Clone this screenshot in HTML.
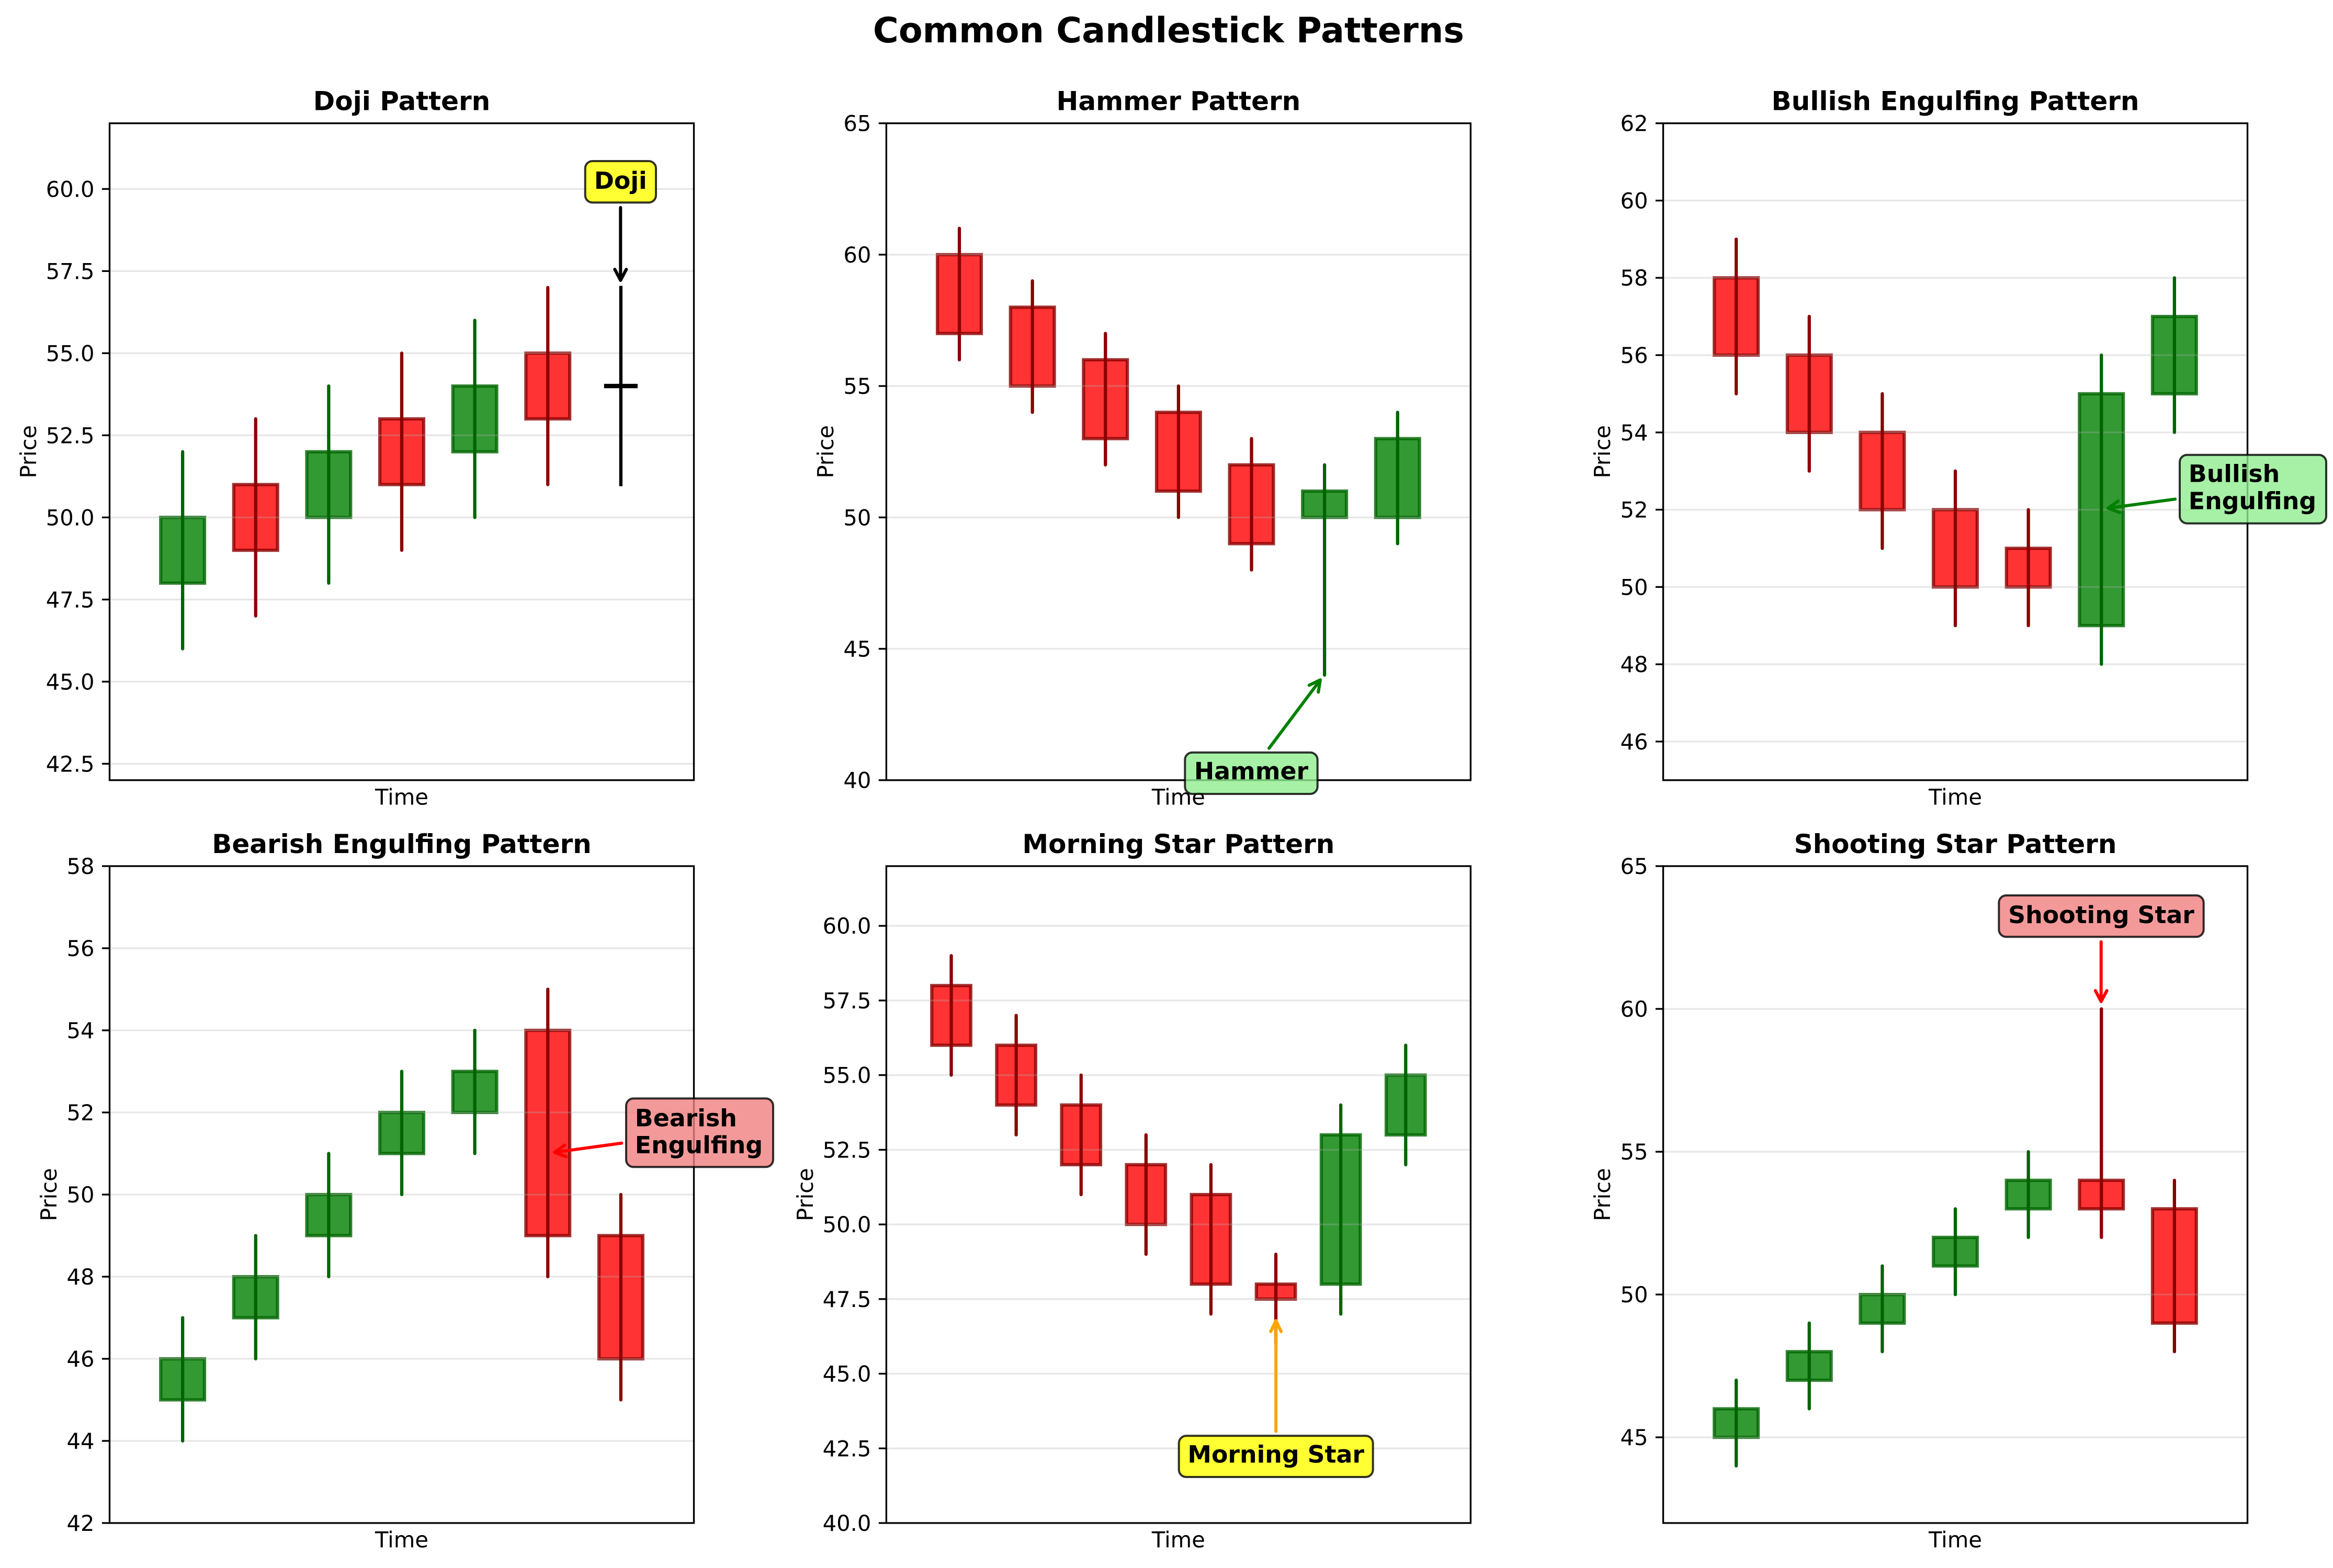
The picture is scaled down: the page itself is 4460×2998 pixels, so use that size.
<!DOCTYPE html>
<html>
<head>
<meta charset="utf-8">
<style>
html,body{margin:0;padding:0;background:#fff;}
svg{display:block;}
text{font-family:"DejaVu Sans","Liberation Sans",sans-serif;fill:#000;}
.d rect,.d line{vector-effect:non-scaling-stroke;}
.g{fill:#008000;fill-opacity:.8;stroke:#006400;stroke-opacity:.8;stroke-width:6.25;}
.r{fill:#ff0000;fill-opacity:.8;stroke:#8b0000;stroke-opacity:.8;stroke-width:6.25;}
.wg{stroke:#006400;stroke-width:6.25;stroke-linecap:round;}
.wr{stroke:#8b0000;stroke-width:6.25;stroke-linecap:round;}
.gl{stroke:#b0b0b0;stroke-opacity:.3;stroke-width:3.33;}
.sp{fill:none;stroke:#000;stroke-width:3.33;}
.tk{stroke:#000;stroke-width:3.33;}
.tl{font-size:41.67px;text-anchor:end;}
.ttl{font-size:50px;font-weight:bold;text-anchor:middle;}
.xl{font-size:41.67px;text-anchor:middle;}
.an{font-size:45.8px;font-weight:bold;}
.box{stroke:#000;stroke-opacity:.8;stroke-width:4;}
.arr{fill:none;stroke-width:6;stroke-linecap:round;stroke-linejoin:round;}
</style>
</head>
<body>
<svg width="4460" height="2998" viewBox="0 0 4460 2998" xmlns="http://www.w3.org/2000/svg">
<rect x="0" y="0" width="4460" height="2998" fill="#fff"/>

<text x="2234" y="81" style="font-size:66.7px;font-weight:bold;text-anchor:middle;">Common Candlestick Patterns</text>

<!-- ================= PANEL 1: DOJI ================= -->
<g class="d" transform="translate(349.125,4129.3) scale(139.625,-62.8)">
<rect class="g" x="-0.3" y="48" width="0.6" height="2"/>
<rect class="r" x="0.7" y="49" width="0.6" height="2"/>
<rect class="g" x="1.7" y="50" width="0.6" height="2"/>
<rect class="r" x="2.7" y="51" width="0.6" height="2"/>
<rect class="g" x="3.7" y="52" width="0.6" height="2"/>
<rect class="r" x="4.7" y="53" width="0.6" height="2"/>
<line class="gl" x1="-1" x2="7" y1="42.5" y2="42.5"/>
<line class="gl" x1="-1" x2="7" y1="45" y2="45"/>
<line class="gl" x1="-1" x2="7" y1="47.5" y2="47.5"/>
<line class="gl" x1="-1" x2="7" y1="50" y2="50"/>
<line class="gl" x1="-1" x2="7" y1="52.5" y2="52.5"/>
<line class="gl" x1="-1" x2="7" y1="55" y2="55"/>
<line class="gl" x1="-1" x2="7" y1="57.5" y2="57.5"/>
<line class="gl" x1="-1" x2="7" y1="60" y2="60"/>
<line class="wg" x1="0" x2="0" y1="46" y2="52"/>
<line class="wr" x1="1" x2="1" y1="47" y2="53"/>
<line class="wg" x1="2" x2="2" y1="48" y2="54"/>
<line class="wr" x1="3" x2="3" y1="49" y2="55"/>
<line class="wg" x1="4" x2="4" y1="50" y2="56"/>
<line class="wr" x1="5" x2="5" y1="51" y2="57"/>
<line x1="6" x2="6" y1="51" y2="57" stroke="#000" stroke-width="6.25" stroke-linecap="square"/>
<line x1="5.8" x2="6.2" y1="54" y2="54" stroke="#000" stroke-width="8.33" stroke-linecap="square"/>
</g>
<rect class="sp" x="209.5" y="235.7" width="1117" height="1256"/>
<g class="tk">
<line x1="194.9" x2="209.5" y1="361.3" y2="361.3"/>
<line x1="194.9" x2="209.5" y1="518.3" y2="518.3"/>
<line x1="194.9" x2="209.5" y1="675.3" y2="675.3"/>
<line x1="194.9" x2="209.5" y1="832.3" y2="832.3"/>
<line x1="194.9" x2="209.5" y1="989.3" y2="989.3"/>
<line x1="194.9" x2="209.5" y1="1146.3" y2="1146.3"/>
<line x1="194.9" x2="209.5" y1="1303.3" y2="1303.3"/>
<line x1="194.9" x2="209.5" y1="1460.3" y2="1460.3"/>
</g>
<g class="tl">
<text x="180.5" y="376.3">60.0</text>
<text x="180.5" y="533.3">57.5</text>
<text x="180.5" y="690.3">55.0</text>
<text x="180.5" y="847.3">52.5</text>
<text x="180.5" y="1004.3">50.0</text>
<text x="180.5" y="1161.3">47.5</text>
<text x="180.5" y="1318.3">45.0</text>
<text x="180.5" y="1475.3">42.5</text>
</g>
<text class="ttl" x="768" y="210.7">Doji Pattern</text>
<text class="xl" x="768" y="1538.3">Time</text>
<text class="xl" transform="translate(69,863.7) rotate(-90)" x="0" y="0">Price</text>
<!-- Doji annotation -->
<path class="arr" stroke="#000" d="M1186.3,396.7 L1186.3,536 M1175.3,515 L1186.3,536 L1197.3,515"/>
<rect class="box" x="1118.7" y="308" width="135.3" height="79.3" rx="14" ry="14" fill="#ffff00" fill-opacity=".8"/>
<text class="an" x="1186.3" y="361" text-anchor="middle">Doji</text>

<!-- ================= PANEL 2: HAMMER ================= -->
<g class="d" transform="translate(1834.025,3501.3) scale(139.625,-50.24)">
<rect class="r" x="-0.3" y="57" width="0.6" height="3"/>
<rect class="r" x="0.7" y="55" width="0.6" height="3"/>
<rect class="r" x="1.7" y="53" width="0.6" height="3"/>
<rect class="r" x="2.7" y="51" width="0.6" height="3"/>
<rect class="r" x="3.7" y="49" width="0.6" height="3"/>
<rect class="g" x="4.7" y="50" width="0.6" height="1"/>
<rect class="g" x="5.7" y="50" width="0.6" height="3"/>
<line class="gl" x1="-1" x2="7" y1="45" y2="45"/>
<line class="gl" x1="-1" x2="7" y1="50" y2="50"/>
<line class="gl" x1="-1" x2="7" y1="55" y2="55"/>
<line class="gl" x1="-1" x2="7" y1="60" y2="60"/>
<line class="wr" x1="0" x2="0" y1="56" y2="61"/>
<line class="wr" x1="1" x2="1" y1="54" y2="59"/>
<line class="wr" x1="2" x2="2" y1="52" y2="57"/>
<line class="wr" x1="3" x2="3" y1="50" y2="55"/>
<line class="wr" x1="4" x2="4" y1="48" y2="53"/>
<line class="wg" x1="5" x2="5" y1="44" y2="52"/>
<line class="wg" x1="6" x2="6" y1="49" y2="54"/>
</g>
<rect class="sp" x="1694.4" y="235.7" width="1117" height="1256"/>
<g class="tk">
<line x1="1679.8" x2="1694.4" y1="235.7" y2="235.7"/>
<line x1="1679.8" x2="1694.4" y1="486.9" y2="486.9"/>
<line x1="1679.8" x2="1694.4" y1="738.1" y2="738.1"/>
<line x1="1679.8" x2="1694.4" y1="989.3" y2="989.3"/>
<line x1="1679.8" x2="1694.4" y1="1240.5" y2="1240.5"/>
<line x1="1679.8" x2="1694.4" y1="1491.7" y2="1491.7"/>
</g>
<g class="tl">
<text x="1665.4" y="250.7">65</text>
<text x="1665.4" y="501.9">60</text>
<text x="1665.4" y="753.1">55</text>
<text x="1665.4" y="1004.3">50</text>
<text x="1665.4" y="1255.5">45</text>
<text x="1665.4" y="1506.7">40</text>
</g>
<text class="ttl" x="2252.9" y="210.7">Hammer Pattern</text>
<text class="xl" x="2252.9" y="1538.3">Time</text>
<text class="xl" transform="translate(1592.8,863.7) rotate(-90)" x="0" y="0">Price</text>
<!-- Hammer annotation -->
<path class="arr" stroke="#008000" d="M2426,1430.7 L2524,1300 M2502.6,1310.2 L2524,1300 L2520.2,1323.4"/>
<rect class="box" x="2265.3" y="1438.7" width="253.4" height="79.3" rx="14" ry="14" fill="#90ee90" fill-opacity=".8"/>
<text class="an" x="2392" y="1490" text-anchor="middle">Hammer</text>

<!-- ================= PANEL 3: BULLISH ENGULFING ================= -->
<g class="d" transform="translate(3319.125,4816.406) scale(139.625,-73.88235)">
<rect class="r" x="-0.3" y="56" width="0.6" height="2"/>
<rect class="r" x="0.7" y="54" width="0.6" height="2"/>
<rect class="r" x="1.7" y="52" width="0.6" height="2"/>
<rect class="r" x="2.7" y="50" width="0.6" height="2"/>
<rect class="r" x="3.7" y="50" width="0.6" height="1"/>
<rect class="g" x="4.7" y="49" width="0.6" height="6"/>
<rect class="g" x="5.7" y="55" width="0.6" height="2"/>
<line class="gl" x1="-1" x2="7" y1="46" y2="46"/>
<line class="gl" x1="-1" x2="7" y1="48" y2="48"/>
<line class="gl" x1="-1" x2="7" y1="50" y2="50"/>
<line class="gl" x1="-1" x2="7" y1="52" y2="52"/>
<line class="gl" x1="-1" x2="7" y1="54" y2="54"/>
<line class="gl" x1="-1" x2="7" y1="56" y2="56"/>
<line class="gl" x1="-1" x2="7" y1="58" y2="58"/>
<line class="gl" x1="-1" x2="7" y1="60" y2="60"/>
<line class="wr" x1="0" x2="0" y1="55" y2="59"/>
<line class="wr" x1="1" x2="1" y1="53" y2="57"/>
<line class="wr" x1="2" x2="2" y1="51" y2="55"/>
<line class="wr" x1="3" x2="3" y1="49" y2="53"/>
<line class="wr" x1="4" x2="4" y1="49" y2="52"/>
<line class="wg" x1="5" x2="5" y1="48" y2="56"/>
<line class="wg" x1="6" x2="6" y1="54" y2="58"/>
</g>
<rect class="sp" x="3179.5" y="235.7" width="1117" height="1256"/>
<g class="tk">
<line x1="3164.9" x2="3179.5" y1="235.7" y2="235.7"/>
<line x1="3164.9" x2="3179.5" y1="383.5" y2="383.5"/>
<line x1="3164.9" x2="3179.5" y1="531.2" y2="531.2"/>
<line x1="3164.9" x2="3179.5" y1="679.0" y2="679.0"/>
<line x1="3164.9" x2="3179.5" y1="826.8" y2="826.8"/>
<line x1="3164.9" x2="3179.5" y1="974.5" y2="974.5"/>
<line x1="3164.9" x2="3179.5" y1="1122.3" y2="1122.3"/>
<line x1="3164.9" x2="3179.5" y1="1270.1" y2="1270.1"/>
<line x1="3164.9" x2="3179.5" y1="1417.8" y2="1417.8"/>
</g>
<g class="tl">
<text x="3150.5" y="250.7">62</text>
<text x="3150.5" y="398.5">60</text>
<text x="3150.5" y="546.2">58</text>
<text x="3150.5" y="694.0">56</text>
<text x="3150.5" y="841.8">54</text>
<text x="3150.5" y="989.5">52</text>
<text x="3150.5" y="1137.3">50</text>
<text x="3150.5" y="1285.1">48</text>
<text x="3150.5" y="1432.8">46</text>
</g>
<text class="ttl" x="3738" y="210.7">Bullish Engulfing Pattern</text>
<text class="xl" x="3738" y="1538.3">Time</text>
<text class="xl" transform="translate(3077.9,863.7) rotate(-90)" x="0" y="0">Price</text>
<!-- Bullish annotation -->
<path class="arr" stroke="#008000" d="M4158.3,954.3 L4030,971.7 M4049.3,958 L4030,971.7 L4052.3,979.8"/>
<rect class="box" x="4167" y="869.7" width="280" height="131" rx="14" ry="14" fill="#90ee90" fill-opacity=".8"/>
<text class="an" x="4183.8" y="921.7">Bullish</text>
<text class="an" x="4183.8" y="973.3">Engulfing</text>

<!-- ================= PANEL 4: BEARISH ENGULFING ================= -->
<g class="d" transform="translate(349.125,6209) scale(139.625,-78.5)">
<rect class="g" x="-0.3" y="45" width="0.6" height="1"/>
<rect class="g" x="0.7" y="47" width="0.6" height="1"/>
<rect class="g" x="1.7" y="49" width="0.6" height="1"/>
<rect class="g" x="2.7" y="51" width="0.6" height="1"/>
<rect class="g" x="3.7" y="52" width="0.6" height="1"/>
<rect class="r" x="4.7" y="49" width="0.6" height="5"/>
<rect class="r" x="5.7" y="46" width="0.6" height="3"/>
<line class="gl" x1="-1" x2="7" y1="44" y2="44"/>
<line class="gl" x1="-1" x2="7" y1="46" y2="46"/>
<line class="gl" x1="-1" x2="7" y1="48" y2="48"/>
<line class="gl" x1="-1" x2="7" y1="50" y2="50"/>
<line class="gl" x1="-1" x2="7" y1="52" y2="52"/>
<line class="gl" x1="-1" x2="7" y1="54" y2="54"/>
<line class="gl" x1="-1" x2="7" y1="56" y2="56"/>
<line class="wg" x1="0" x2="0" y1="44" y2="47"/>
<line class="wg" x1="1" x2="1" y1="46" y2="49"/>
<line class="wg" x1="2" x2="2" y1="48" y2="51"/>
<line class="wg" x1="3" x2="3" y1="50" y2="53"/>
<line class="wg" x1="4" x2="4" y1="51" y2="54"/>
<line class="wr" x1="5" x2="5" y1="48" y2="55"/>
<line class="wr" x1="6" x2="6" y1="45" y2="50"/>
</g>
<rect class="sp" x="209.5" y="1656" width="1117" height="1256"/>
<g class="tk">
<line x1="194.9" x2="209.5" y1="1656" y2="1656"/>
<line x1="194.9" x2="209.5" y1="1813" y2="1813"/>
<line x1="194.9" x2="209.5" y1="1970" y2="1970"/>
<line x1="194.9" x2="209.5" y1="2127" y2="2127"/>
<line x1="194.9" x2="209.5" y1="2284" y2="2284"/>
<line x1="194.9" x2="209.5" y1="2441" y2="2441"/>
<line x1="194.9" x2="209.5" y1="2598" y2="2598"/>
<line x1="194.9" x2="209.5" y1="2755" y2="2755"/>
<line x1="194.9" x2="209.5" y1="2912" y2="2912"/>
</g>
<g class="tl">
<text x="180.5" y="1671">58</text>
<text x="180.5" y="1828">56</text>
<text x="180.5" y="1985">54</text>
<text x="180.5" y="2142">52</text>
<text x="180.5" y="2299">50</text>
<text x="180.5" y="2456">48</text>
<text x="180.5" y="2613">46</text>
<text x="180.5" y="2770">44</text>
<text x="180.5" y="2927">42</text>
</g>
<text class="ttl" x="768" y="1631">Bearish Engulfing Pattern</text>
<text class="xl" x="768" y="2958.6">Time</text>
<text class="xl" transform="translate(107.9,2284) rotate(-90)" x="0" y="0">Price</text>
<!-- Bearish annotation -->
<path class="arr" stroke="#ff0000" d="M1188.3,2185.7 L1060,2203.3 M1079.3,2189.6 L1060,2203.3 L1082.3,2211.4"/>
<rect class="box" x="1197" y="2100.3" width="281" height="131" rx="14" ry="14" fill="#f08080" fill-opacity=".8"/>
<text class="an" x="1213.8" y="2153.3">Bearish</text>
<text class="an" x="1213.8" y="2205">Engulfing</text>

<!-- ================= PANEL 5: MORNING STAR ================= -->
<g class="d" transform="translate(1818.511,5195.636) scale(124.1111,-57.0909)">
<rect class="r" x="-0.3" y="56" width="0.6" height="2"/>
<rect class="r" x="0.7" y="54" width="0.6" height="2"/>
<rect class="r" x="1.7" y="52" width="0.6" height="2"/>
<rect class="r" x="2.7" y="50" width="0.6" height="2"/>
<rect class="r" x="3.7" y="48" width="0.6" height="3"/>
<rect class="r" x="4.7" y="47.5" width="0.6" height="0.5"/>
<rect class="g" x="5.7" y="48" width="0.6" height="5"/>
<rect class="g" x="6.7" y="53" width="0.6" height="2"/>
<line class="gl" x1="-1" x2="8" y1="42.5" y2="42.5"/>
<line class="gl" x1="-1" x2="8" y1="45" y2="45"/>
<line class="gl" x1="-1" x2="8" y1="47.5" y2="47.5"/>
<line class="gl" x1="-1" x2="8" y1="50" y2="50"/>
<line class="gl" x1="-1" x2="8" y1="52.5" y2="52.5"/>
<line class="gl" x1="-1" x2="8" y1="55" y2="55"/>
<line class="gl" x1="-1" x2="8" y1="57.5" y2="57.5"/>
<line class="gl" x1="-1" x2="8" y1="60" y2="60"/>
<line class="wr" x1="0" x2="0" y1="55" y2="59"/>
<line class="wr" x1="1" x2="1" y1="53" y2="57"/>
<line class="wr" x1="2" x2="2" y1="51" y2="55"/>
<line class="wr" x1="3" x2="3" y1="49" y2="53"/>
<line class="wr" x1="4" x2="4" y1="47" y2="52"/>
<line class="wr" x1="5" x2="5" y1="46" y2="49"/>
<line class="wg" x1="6" x2="6" y1="47" y2="54"/>
<line class="wg" x1="7" x2="7" y1="52" y2="56"/>
</g>
<rect class="sp" x="1694.4" y="1656" width="1117" height="1256"/>
<g class="tk">
<line x1="1679.8" x2="1694.4" y1="1770.2" y2="1770.2"/>
<line x1="1679.8" x2="1694.4" y1="1912.9" y2="1912.9"/>
<line x1="1679.8" x2="1694.4" y1="2055.6" y2="2055.6"/>
<line x1="1679.8" x2="1694.4" y1="2198.4" y2="2198.4"/>
<line x1="1679.8" x2="1694.4" y1="2341.1" y2="2341.1"/>
<line x1="1679.8" x2="1694.4" y1="2483.8" y2="2483.8"/>
<line x1="1679.8" x2="1694.4" y1="2626.5" y2="2626.5"/>
<line x1="1679.8" x2="1694.4" y1="2769.3" y2="2769.3"/>
<line x1="1679.8" x2="1694.4" y1="2912" y2="2912"/>
</g>
<g class="tl">
<text x="1665.4" y="1785.2">60.0</text>
<text x="1665.4" y="1927.9">57.5</text>
<text x="1665.4" y="2070.6">55.0</text>
<text x="1665.4" y="2213.4">52.5</text>
<text x="1665.4" y="2356.1">50.0</text>
<text x="1665.4" y="2498.8">47.5</text>
<text x="1665.4" y="2641.5">45.0</text>
<text x="1665.4" y="2784.3">42.5</text>
<text x="1665.4" y="2927">40.0</text>
</g>
<text class="ttl" x="2252.9" y="1631">Morning Star Pattern</text>
<text class="xl" x="2252.9" y="2958.6">Time</text>
<text class="xl" transform="translate(1553.9,2284) rotate(-90)" x="0" y="0">Price</text>
<!-- Morning star annotation -->
<path class="arr" stroke="#ffa500" d="M2439.2,2736.7 L2439.2,2525 M2429.2,2546 L2439.2,2525 L2449.2,2546"/>
<rect class="box" x="2253.7" y="2745.3" width="371" height="78.7" rx="14" ry="14" fill="#ffff00" fill-opacity=".8"/>
<text class="an" x="2439.2" y="2796.7" text-anchor="middle">Morning Star</text>

<!-- ================= PANEL 6: SHOOTING STAR ================= -->
<g class="d" transform="translate(3319.125,5205.565) scale(139.625,-54.6087)">
<rect class="g" x="-0.3" y="45" width="0.6" height="1"/>
<rect class="g" x="0.7" y="47" width="0.6" height="1"/>
<rect class="g" x="1.7" y="49" width="0.6" height="1"/>
<rect class="g" x="2.7" y="51" width="0.6" height="1"/>
<rect class="g" x="3.7" y="53" width="0.6" height="1"/>
<rect class="r" x="4.7" y="53" width="0.6" height="1"/>
<rect class="r" x="5.7" y="49" width="0.6" height="4"/>
<line class="gl" x1="-1" x2="7" y1="45" y2="45"/>
<line class="gl" x1="-1" x2="7" y1="50" y2="50"/>
<line class="gl" x1="-1" x2="7" y1="55" y2="55"/>
<line class="gl" x1="-1" x2="7" y1="60" y2="60"/>
<line class="wg" x1="0" x2="0" y1="44" y2="47"/>
<line class="wg" x1="1" x2="1" y1="46" y2="49"/>
<line class="wg" x1="2" x2="2" y1="48" y2="51"/>
<line class="wg" x1="3" x2="3" y1="50" y2="53"/>
<line class="wg" x1="4" x2="4" y1="52" y2="55"/>
<line class="wr" x1="5" x2="5" y1="52" y2="60"/>
<line class="wr" x1="6" x2="6" y1="48" y2="54"/>
</g>
<rect class="sp" x="3179.5" y="1656" width="1117" height="1256"/>
<g class="tk">
<line x1="3164.9" x2="3179.5" y1="1656" y2="1656"/>
<line x1="3164.9" x2="3179.5" y1="1929" y2="1929"/>
<line x1="3164.9" x2="3179.5" y1="2202.1" y2="2202.1"/>
<line x1="3164.9" x2="3179.5" y1="2475.1" y2="2475.1"/>
<line x1="3164.9" x2="3179.5" y1="2748.1" y2="2748.1"/>
</g>
<g class="tl">
<text x="3150.5" y="1671">65</text>
<text x="3150.5" y="1944">60</text>
<text x="3150.5" y="2217.1">55</text>
<text x="3150.5" y="2490.1">50</text>
<text x="3150.5" y="2763.1">45</text>
</g>
<text class="ttl" x="3738" y="1631">Shooting Star Pattern</text>
<text class="xl" x="3738" y="2958.6">Time</text>
<text class="xl" transform="translate(3077.9,2284) rotate(-90)" x="0" y="0">Price</text>
<!-- Shooting star annotation -->
<path class="arr" stroke="#ff0000" d="M4016.7,1800.7 L4016.7,1915 M4005.7,1894 L4016.7,1915 L4027.7,1894"/>
<rect class="box" x="3821.3" y="1712" width="391.4" height="79.3" rx="14" ry="14" fill="#f08080" fill-opacity=".8"/>
<text class="an" x="4017" y="1765" text-anchor="middle">Shooting Star</text>

</svg>
</body>
</html>
